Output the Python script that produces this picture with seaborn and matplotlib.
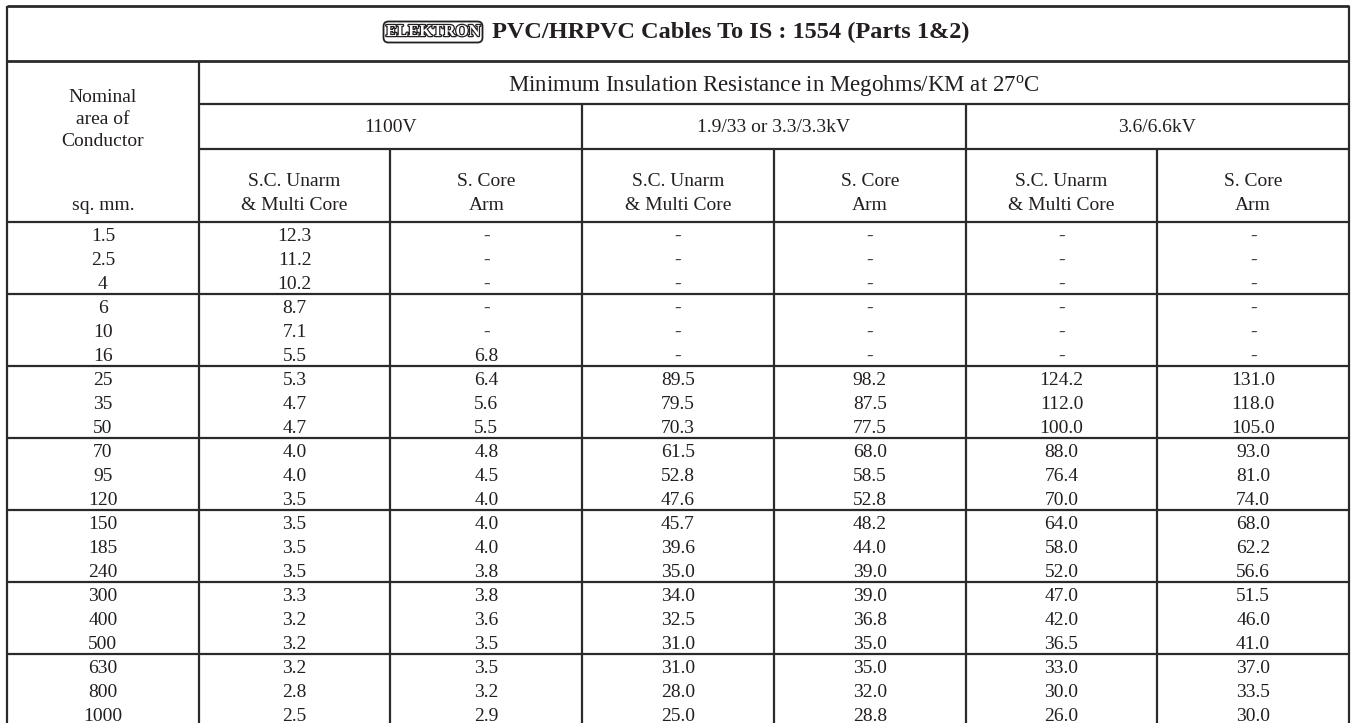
import numpy as np
import pandas as pd
import matplotlib
matplotlib.use("Agg")
import matplotlib.pyplot as plt
import matplotlib.patheffects as pe
from matplotlib.colors import ListedColormap
import seaborn as sns

# ---------------- data ----------------
title = "PVC/HRPVC Cables To IS : 1554 (Parts 1&2)"
logo = "ELEKTRON"
super_header = r"Minimum Insulation Resistance in Megohms/KM at 27$^{\mathrm{o}}$C"
voltage_groups = ["1100V", "1.9/33 or 3.3/3.3kV", "3.6/6.6kV"]
sub_headers = [("S.C. Unarm", "& Multi Core"), ("S. Core", "Arm")]
first_col_header = ["Nominal", "area of", "Conductor"]
first_col_unit = "sq. mm."

sizes = ["1.5", "2.5", "4", "6", "10", "16", "25", "35", "50", "70", "95",
         "120", "150", "185", "240", "300", "400", "500", "630", "800", "1000"]
lv_unarm = [12.3, 11.2, 10.2, 8.7, 7.1, 5.5, 5.3, 4.7, 4.7, 4.0, 4.0, 3.5,
            3.5, 3.5, 3.5, 3.3, 3.2, 3.2, 3.2, 2.8, 2.5]
lv_arm = [None] * 5 + [6.8, 6.4, 5.6, 5.5, 4.8, 4.5, 4.0, 4.0, 4.0, 3.8,
                       3.8, 3.6, 3.5, 3.5, 3.2, 2.9]
kv33_unarm = [None] * 6 + [89.5, 79.5, 70.3, 61.5, 52.8, 47.6, 45.7, 39.6,
                           35.0, 34.0, 32.5, 31.0, 31.0, 28.0, 25.0]
kv33_arm = [None] * 6 + [98.2, 87.5, 77.5, 68.0, 58.5, 52.8, 48.2, 44.0,
                         39.0, 39.0, 36.8, 35.0, 35.0, 32.0, 28.8]
kv66_unarm = [None] * 6 + [124.2, 112.0, 100.0, 88.0, 76.4, 70.0, 64.0, 58.0,
                           52.0, 47.0, 42.0, 36.5, 33.0, 30.0, 26.0]
kv66_arm = [None] * 6 + [131.0, 118.0, 105.0, 93.0, 81.0, 74.0, 68.0, 62.2,
                         56.6, 51.5, 46.0, 41.0, 37.0, 33.5, 30.0]

# ---------------- style ----------------
sns.set_theme(style="white")
plt.rcParams["font.family"] = ["Liberation Serif", "DejaVu Serif"]
plt.rcParams["mathtext.fontset"] = "custom"
plt.rcParams["mathtext.rm"] = "Liberation Serif"
plt.rcParams["mathtext.it"] = "Liberation Serif:italic"
plt.rcParams["mathtext.bf"] = "Liberation Serif:bold"

TXT = "#231f20"
LINE = "#2a2a2a"
LW = 1.6
FS = 14

series = [lv_unarm, lv_arm, kv33_unarm, kv33_arm, kv66_unarm, kv66_arm]
cols = ["size"] + [f"c{i}" for i in range(len(series))]
df = pd.DataFrame({"size": [float(s) for s in sizes]})
for name, s in zip(cols[1:], series):
    df[name] = [np.nan if v is None else v for v in s]

labels = np.empty(df.shape, dtype=object)
labels[:, 0] = sizes
for j, s in enumerate(series):
    labels[:, j + 1] = ["-" if v is None else f"{v:.1f}" for v in s]

W, H = 1351, 723
fig = plt.figure(figsize=(W / 100, H / 100), dpi=100)
# axes spans px x 7..1349, y 6..726 ; rows 24 px ; header = 9 rows
left_px, right_px, top_px, bot_px = 7, 1349, 6, 726
ax = fig.add_axes([left_px / W, 1 - bot_px / H,
                   (right_px - left_px) / W, (bot_px - top_px) / H])

sns.heatmap(df.fillna(0) * 0, annot=labels, fmt="",
            cmap=ListedColormap(["white"]), cbar=False, ax=ax,
            xticklabels=False, yticklabels=False,
            annot_kws={"fontsize": FS, "color": TXT, "va": "center"})
ax.set_ylim(21, -9)
ax.set_xlim(0, 7)
for sp in ax.spines.values():
    sp.set_visible(False)

for t in ax.texts:
    x, y = t.get_position()
    t.set_position((x, y + 0.1))
    if t.get_text() == "-":
        t.set_color("#444444")


def py(p):
    return (p - 222) / 24.0


def hline(ypx, x0, x1, lw=LW):
    ax.plot([x0, x1], [py(ypx), py(ypx)], color=LINE, lw=lw,
            solid_capstyle="butt", clip_on=False, zorder=5)


def vline(xc, y0px, y1px, lw=LW):
    ax.plot([xc, xc], [py(y0px), py(y1px)], color=LINE, lw=lw,
            solid_capstyle="butt", clip_on=False, zorder=5)


# horizontal rules
hline(6, 0, 7, lw=2.0)
hline(61, 0, 7, lw=2.0)
hline(104, 1, 7)
hline(149, 1, 7)
hline(222, 0, 7)
for k in range(1, 7):
    hline(222 + 72 * k, 0, 7)

# vertical rules
vline(0, 6, 726)
vline(7, 6, 726)
vline(1, 61, 726)
vline(3, 104, 726)
vline(5, 104, 726)
for c in (2, 4, 6):
    vline(c, 149, 726)

# header texts
ax.text(4.0, py(86), super_header, ha="center", va="center",
        fontsize=16.5, color=TXT)
for i, g in enumerate(voltage_groups):
    ax.text(2 + 2 * i, py(127), g, ha="center", va="center", fontsize=FS,
            color=TXT)
for j in range(6):
    a, b = sub_headers[j % 2]
    ax.text(1.5 + j, py(181), a, ha="center", va="center", fontsize=FS,
            color=TXT)
    ax.text(1.5 + j, py(206), b, ha="center", va="center", fontsize=FS,
            color=TXT)
for k, s in enumerate(first_col_header):
    ax.text(0.5, py(98 + 22 * k), s, ha="center", va="center", fontsize=FS,
            color=TXT)
ax.text(0.5, py(206), first_col_unit, ha="center", va="center", fontsize=FS,
        color=TXT)

# title with logo
colw = (right_px - left_px) / 7.0
ax.text((492 - left_px) / colw, py(32), title, ha="left", va="center",
        fontsize=17.5, fontweight="bold", color=TXT)
lg = ax.text((433 - left_px) / colw, py(32), logo, ha="center", va="center",
             fontsize=12, fontweight="bold", color="white",
             bbox=dict(boxstyle="round,pad=0.15,rounding_size=0.3",
                       fc="white", ec=TXT, lw=1.3))
lg.set_path_effects([pe.Stroke(linewidth=1.8, foreground=TXT), pe.Normal()])

fig.savefig("out.png", dpi=100)
